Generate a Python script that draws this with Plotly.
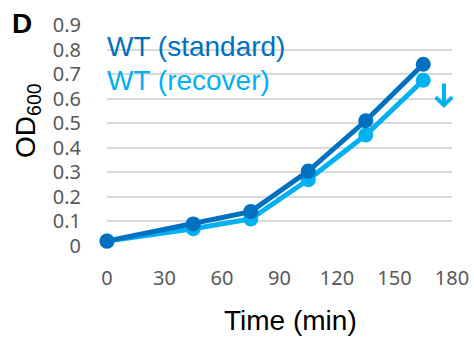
import plotly.graph_objects as go

time_min = [0, 45, 75, 105, 135, 165]
od_standard = [0.02, 0.09, 0.14, 0.305, 0.51, 0.74]
od_recover = [0.02, 0.07, 0.11, 0.27, 0.452, 0.675]
x_ticks = [0, 30, 60, 90, 120, 150, 180]
y_ticks = [0, 0.1, 0.2, 0.3, 0.4, 0.5, 0.6, 0.7, 0.8, 0.9]
y_tick_labels = ["0", "0.1", "0.2", "0.3", "0.4", "0.5", "0.6", "0.7", "0.8", "0.9"]
series_names = ["WT (standard)", "WT (recover)"]

C_STD = "#0070C0"
C_REC = "#00B0F0"
TICK_FONT = dict(family="Noto Sans, sans-serif", size=20, color="#595959")

fig = go.Figure()
fig.add_trace(go.Scatter(x=time_min, y=od_recover, mode="lines+markers", name=series_names[1],
                         line=dict(color=C_REC, width=5), marker=dict(size=15, color=C_REC),
                         cliponaxis=False))
fig.add_trace(go.Scatter(x=time_min, y=od_standard, mode="lines+markers", name=series_names[0],
                         line=dict(color=C_STD, width=5), marker=dict(size=15, color=C_STD),
                         cliponaxis=False))

fig.update_layout(
    width=474, height=339,
    margin=dict(l=107, r=22, t=25, b=93, autoexpand=False),
    paper_bgcolor="white", plot_bgcolor="white",
    showlegend=False,
    font=dict(family="Liberation Sans, Arial, sans-serif"),
    xaxis=dict(range=[0, 180], tickvals=x_ticks, showgrid=False, zeroline=False, showline=False,
               ticks="", ticklabelstandoff=18, tickfont=TICK_FONT, automargin=False),
    yaxis=dict(range=[0, 0.9], tickvals=y_ticks, ticktext=y_tick_labels, showgrid=True,
               gridcolor="#D9D9D9", gridwidth=1.5, zeroline=False, showline=False,
               ticks="", ticklabelstandoff=25, tickfont=TICK_FONT, automargin=False),
)

# axis titles
fig.add_annotation(xref="paper", yref="paper", x=0.533, y=-0.335, xanchor="center", yanchor="middle",
                   text="Time (min)", showarrow=False, font=dict(size=28, color="black"))
fig.add_annotation(xref="paper", yref="paper", x=-0.232, y=0.57, xanchor="center", yanchor="middle",
                   text="OD<sub>600</sub>", textangle=-90, showarrow=False,
                   font=dict(size=28, color="black"))
# panel letter
fig.add_annotation(xref="paper", yref="paper", x=-0.246, y=1.007, xanchor="center", yanchor="middle",
                   text="<b>D</b>", showarrow=False, font=dict(size=28, color="black"))
# in-plot legend labels
fig.add_annotation(xref="paper", yref="y", x=-0.006, y=0.812, xanchor="left", yanchor="middle",
                   text=series_names[0], showarrow=False, font=dict(size=28, color=C_STD))
fig.add_annotation(xref="paper", yref="y", x=-0.006, y=0.675, xanchor="left", yanchor="middle",
                   text=series_names[1], showarrow=False, font=dict(size=28, color=C_REC))
# downward arrow next to recover endpoint
fig.add_annotation(xref="x", yref="y", x=175.8, y=0.562, text="", showarrow=True,
                   ax=0, ay=-26, arrowhead=4, arrowwidth=4, arrowsize=0.8, arrowcolor=C_REC)

fig.write_html("out.html", config={"displayModeBar": False},
               post_script="document.body.style.margin='0';")
